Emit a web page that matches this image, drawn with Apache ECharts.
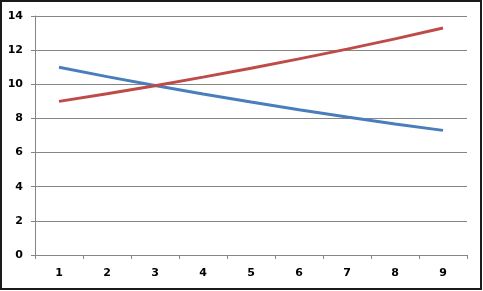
<!DOCTYPE html>
<html>
<head>
<meta charset="utf-8">
<script src="https://cdn.jsdelivr.net/npm/echarts@6/dist/echarts.min.js"></script>
<style>
html,body{margin:0;padding:0;background:#fff;}
#c{width:483px;height:291px;}
</style>
</head>
<body>
<div id="c"></div>
<script>
const categories = ['1','2','3','4','5','6','7','8','9'];
const seriesBlue = [11.0, 10.45, 9.93, 9.43, 8.96, 8.51, 8.08, 7.68, 7.30];
const seriesRed = [9.0, 9.45, 9.92, 10.42, 10.94, 11.49, 12.06, 12.66, 13.30];
const yTicks = {min: 0, max: 14, interval: 2};

const chart = echarts.init(document.getElementById('c'), null, {renderer: 'canvas'});
const labelFont = {color: '#000', fontFamily: 'DejaVu Sans', fontWeight: 'bold', fontSize: 11};
chart.setOption({
  animation: false,
  backgroundColor: '#fff',
  grid: {left: 35, right: 16, top: 16, bottom: 36},
  xAxis: {
    type: 'category',
    data: categories,
    boundaryGap: true,
    axisLine: {lineStyle: {color: '#868686', width: 1}},
    axisTick: {show: true, length: 4, inside: false, alignWithLabel: false, lineStyle: {color: '#868686'}},
    axisLabel: Object.assign({margin: 13}, labelFont),
    splitLine: {show: false}
  },
  yAxis: {
    type: 'value',
    min: yTicks.min, max: yTicks.max, interval: yTicks.interval,
    axisLine: {show: true, lineStyle: {color: '#868686', width: 1}},
    axisTick: {show: true, length: 4, lineStyle: {color: '#868686'}},
    axisLabel: Object.assign({margin: 12}, labelFont),
    splitLine: {show: true, lineStyle: {color: '#868686', width: 1}}
  },
  series: [
    {type: 'line', data: seriesBlue, symbol: 'none', smooth: false,
     lineStyle: {color: '#4a7ebb', width: 3}, itemStyle: {color: '#4a7ebb'}},
    {type: 'line', data: seriesRed, symbol: 'none', smooth: false,
     lineStyle: {color: '#be4b48', width: 3}, itemStyle: {color: '#be4b48'}}
  ],
  graphic: [{
    type: 'rect', silent: true,
    shape: {x: 1, y: 1, width: 480, height: 288},
    style: {fill: 'none', stroke: '#1a1a1a', lineWidth: 2}
  }]
});
</script>
</body>
</html>
